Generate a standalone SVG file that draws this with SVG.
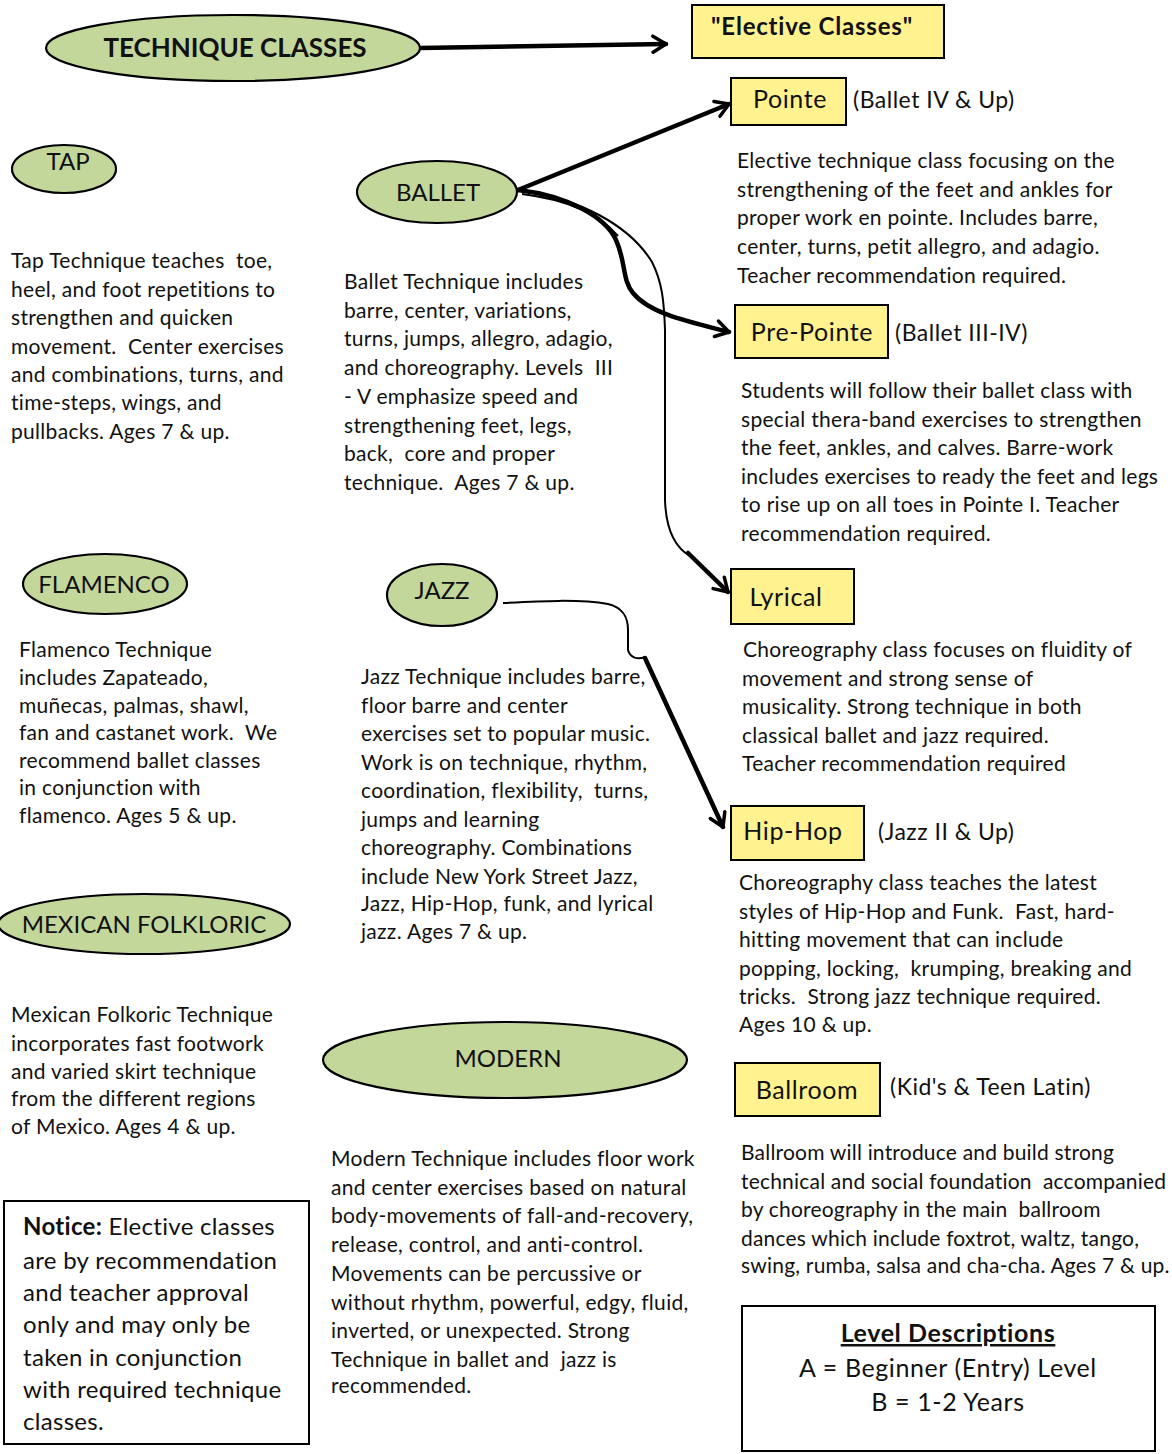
<svg xmlns="http://www.w3.org/2000/svg" width="1172" height="1454" viewBox="0 0 1172 1454">
<style>
.ell{fill:#C4D79B;stroke:#000;stroke-width:2.2}
.box{fill:#FFF28F;stroke:#000;stroke-width:2}
.frame{fill:#fff;stroke:#000;stroke-width:2}
.t{font-family:Lato,"Open Sans",sans-serif;font-size:21px;letter-spacing:0.3px;fill:#111}
.lbl{font-family:Lato,"Open Sans",sans-serif;font-size:24px;fill:#111}
.mx{font-size:25px;letter-spacing:0.6px}
.par{font-size:23px;letter-spacing:0.5px}
.note{font-family:Lato,"Open Sans",sans-serif;font-size:24px;letter-spacing:0.3px;fill:#111}
.c{text-anchor:middle}
.thick{fill:none;stroke:#000;stroke-width:4.5;stroke-linecap:round;stroke-linejoin:round}
.thin{fill:none;stroke:#000;stroke-width:2}
</style>
<defs>
<marker id="ah" viewBox="0 0 20 20" refX="17" refY="10" markerWidth="20" markerHeight="20" markerUnits="userSpaceOnUse" orient="auto">
<path d="M4,2 L17,10 L4,18" fill="none" stroke="#000" stroke-width="3.5" stroke-linecap="round" stroke-linejoin="round"/>
</marker>
</defs>
<rect width="1172" height="1454" fill="#fff"/>

<g id="connectors">
<path class="thick" d="M420,48 L666,44" marker-end="url(#ah)"/>
<path class="thick" d="M518,190 L729,104" marker-end="url(#ah)"/>
<path class="thick" d="M518,190 C570,196 606,218 616,240 C626,262 622,280 633,293 C650,314 690,322 729,332" marker-end="url(#ah)"/>
<path class="thin" d="M518,190 C580,198 630,226 652,262 C662,282 664,300 665,330 L665,500 C666,530 676,548 690,556"/>
<path class="thin" d="M522,194 C570,200 600,215 618,236"/>
<path class="thick" d="M688,553 L728,592" marker-end="url(#ah)"/>
<path class="thin" d="M503,603 C540,601 580,599 608,604 C624,608 628,618 628,630 L628,650 C630,658 638,660 645,657"/>
<path class="thick" d="M645,658 L723,827" marker-end="url(#ah)"/>
</g>

<g id="technique-classes">
<ellipse class="ell" cx="233" cy="48" rx="187" ry="33"/>
<text class="lbl c" x="235" y="57" font-weight="bold" style="font-size:26px">TECHNIQUE CLASSES</text>
</g>

<g id="elective-classes">
<rect class="box" x="692" y="5" width="252" height="53"/>
<text class="lbl c" x="812" y="35" font-weight="bold" style="letter-spacing:0.8px">"Elective Classes"</text>
</g>

<g id="tap">
<ellipse class="ell" cx="64" cy="169" rx="52" ry="24"/>
<text class="lbl c" x="68" y="170">TAP</text>
<text class="t" x="11" y="268" xml:space="preserve"><tspan x="11">Tap Technique teaches  toe,</tspan><tspan x="11" dy="28.6">heel, and foot repetitions to</tspan><tspan x="11" dy="28.6">strengthen and quicken</tspan><tspan x="11" dy="28.6">movement.  Center exercises</tspan><tspan x="11" dy="28.6">and combinations, turns, and</tspan><tspan x="11" dy="27.5">time-steps, wings, and</tspan><tspan x="11" dy="28.6">pullbacks. Ages 7 &amp; up.</tspan></text>
</g>

<g id="ballet">
<ellipse class="ell" cx="437" cy="192" rx="80" ry="31"/>
<text class="lbl c" x="438" y="201">BALLET</text>
<text class="t" x="344" y="289" xml:space="preserve"><tspan x="344">Ballet Technique includes</tspan><tspan x="344" dy="28.7">barre, center, variations,</tspan><tspan x="344" dy="28.7">turns, jumps, allegro, adagio,</tspan><tspan x="344" dy="28.7">and choreography. Levels  III</tspan><tspan x="344" dy="28.7">- V emphasize speed and</tspan><tspan x="344" dy="28.7">strengthening feet, legs,</tspan><tspan x="344" dy="28.7">back,  core and proper</tspan><tspan x="344" dy="28.7">technique.  Ages 7 &amp; up.</tspan></text>
</g>

<g id="pointe">
<rect class="box" x="731" y="78" width="115" height="47"/>
<text class="lbl mx c" x="790" y="108">Pointe</text>
<text class="lbl par" x="853" y="108">(Ballet IV &amp; Up)</text>
<text class="t" x="737" y="168" xml:space="preserve"><tspan x="737">Elective technique class focusing on the</tspan><tspan x="737" dy="28.7">strengthening of the feet and ankles for</tspan><tspan x="737" dy="28.7">proper work en pointe. Includes barre,</tspan><tspan x="737" dy="28.7">center, turns, petit allegro, and adagio.</tspan><tspan x="737" dy="28.7">Teacher recommendation required.</tspan></text>
</g>

<g id="pre-pointe">
<rect class="box" x="735" y="305" width="153" height="53"/>
<text class="lbl mx c" x="812" y="341">Pre-Pointe</text>
<text class="lbl par" x="895" y="341">(Ballet III-IV)</text>
<text class="t" x="741" y="398" xml:space="preserve"><tspan x="741">Students will follow their ballet class with</tspan><tspan x="741" dy="28.5">special thera-band exercises to strengthen</tspan><tspan x="741" dy="28.5">the feet, ankles, and calves. Barre-work</tspan><tspan x="741" dy="28.5">includes exercises to ready the feet and legs</tspan><tspan x="741" dy="28.5">to rise up on all toes in Pointe I. Teacher</tspan><tspan x="741" dy="28.5">recommendation required.</tspan></text>
</g>

<g id="flamenco">
<ellipse class="ell" cx="105" cy="584" rx="82" ry="30"/>
<text class="lbl c" x="104" y="593">FLAMENCO</text>
<text class="t" x="19" y="657" xml:space="preserve"><tspan x="19">Flamenco Technique</tspan><tspan x="19" dy="28">includes Zapateado,</tspan><tspan x="19" dy="28">muñecas, palmas, shawl,</tspan><tspan x="19" dy="27">fan and castanet work.  We</tspan><tspan x="19" dy="28">recommend ballet classes</tspan><tspan x="19" dy="27">in conjunction with</tspan><tspan x="19" dy="28">flamenco. Ages 5 &amp; up.</tspan></text>
</g>

<g id="jazz">
<ellipse class="ell" cx="442" cy="595" rx="55" ry="31"/>
<text class="lbl c" x="442" y="599">JAZZ</text>
<text class="t" x="361" y="684" xml:space="preserve"><tspan x="361">Jazz Technique includes barre,</tspan><tspan x="361" dy="28.5">floor barre and center</tspan><tspan x="361" dy="28.5">exercises set to popular music.</tspan><tspan x="361" dy="28.5">Work is on technique, rhythm,</tspan><tspan x="361" dy="28.5">coordination, flexibility,  turns,</tspan><tspan x="361" dy="28.5">jumps and learning</tspan><tspan x="361" dy="28.5">choreography. Combinations</tspan><tspan x="361" dy="28.5">include New York Street Jazz,</tspan><tspan x="361" dy="27">Jazz, Hip-Hop, funk, and lyrical</tspan><tspan x="361" dy="28">jazz. Ages 7 &amp; up.</tspan></text>
</g>

<g id="lyrical">
<rect class="box" x="731" y="569" width="123" height="55"/>
<text class="lbl mx c" x="786" y="606">Lyrical</text>
<text class="t" x="742" y="657" xml:space="preserve"><tspan x="743">Choreography class focuses on fluidity of</tspan><tspan x="742" dy="28.6">movement and strong sense of</tspan><tspan x="742" dy="28.6">musicality. Strong technique in both</tspan><tspan x="742" dy="28.6">classical ballet and jazz required.</tspan><tspan x="742" dy="28.6">Teacher recommendation required</tspan></text>
</g>

<g id="hip-hop">
<rect class="box" x="731" y="806" width="133" height="54"/>
<text class="lbl mx c" x="793" y="840">Hip-Hop</text>
<text class="lbl par" x="878" y="840">(Jazz II &amp; Up)</text>
<text class="t" x="739" y="890" xml:space="preserve"><tspan x="739">Choreography class teaches the latest</tspan><tspan x="739" dy="28.6">styles of Hip-Hop and Funk.  Fast, hard-</tspan><tspan x="739" dy="28.6">hitting movement that can include</tspan><tspan x="739" dy="28.6">popping, locking,  krumping, breaking and</tspan><tspan x="739" dy="28.6">tricks.  Strong jazz technique required.</tspan><tspan x="739" dy="27.5">Ages 10 &amp; up.</tspan></text>
</g>

<g id="mexican-folkloric">
<ellipse class="ell" cx="144" cy="924" rx="146" ry="30"/>
<text class="lbl c" x="144" y="933">MEXICAN FOLKLORIC</text>
<text class="t" x="11" y="1022" xml:space="preserve"><tspan x="11">Mexican Folkoric Technique</tspan><tspan x="11" dy="28.5">incorporates fast footwork</tspan><tspan x="11" dy="28.5">and varied skirt technique</tspan><tspan x="11" dy="27">from the different regions</tspan><tspan x="11" dy="28">of Mexico. Ages 4 &amp; up.</tspan></text>
</g>

<g id="modern">
<ellipse class="ell" cx="505" cy="1060" rx="182" ry="38"/>
<text class="lbl c" x="508" y="1067">MODERN</text>
<text class="t" x="331" y="1166" xml:space="preserve"><tspan x="331">Modern Technique includes floor work</tspan><tspan x="331" dy="28.7">and center exercises based on natural</tspan><tspan x="331" dy="28.7">body-movements of fall-and-recovery,</tspan><tspan x="331" dy="28.7">release, control, and anti-control.</tspan><tspan x="331" dy="28.7">Movements can be percussive or</tspan><tspan x="331" dy="28.7">without rhythm, powerful, edgy, fluid,</tspan><tspan x="331" dy="28.7">inverted, or unexpected. Strong</tspan><tspan x="331" dy="28.7">Technique in ballet and  jazz is</tspan><tspan x="331" dy="26.5">recommended.</tspan></text>
</g>

<g id="ballroom">
<rect class="box" x="735" y="1063" width="145" height="53"/>
<text class="lbl mx c" x="807" y="1099">Ballroom</text>
<text class="lbl par" x="890" y="1095">(Kid's &amp; Teen Latin)</text>
<text class="t" x="741" y="1160" xml:space="preserve" style="letter-spacing:0.2px"><tspan x="741">Ballroom will introduce and build strong</tspan><tspan x="741" dy="28.5">technical and social foundation  accompanied</tspan><tspan x="741" dy="28.5">by choreography in the main  ballroom</tspan><tspan x="741" dy="28.5">dances which include foxtrot, waltz, tango,</tspan><tspan x="741" dy="27.5">swing, rumba, salsa and cha-cha. Ages 7 &amp; up.</tspan></text>
</g>

<g id="notice">
<rect class="frame" x="4" y="1201" width="305" height="243"/>
<text class="note" x="23" y="1235" xml:space="preserve"><tspan x="23"><tspan font-weight="bold">Notice:</tspan> Elective classes</tspan><tspan x="23" dy="33.5">are by recommendation</tspan><tspan x="23" dy="32">and teacher approval</tspan><tspan x="23" dy="32.5">only and may only be</tspan><tspan x="23" dy="33">taken in conjunction</tspan><tspan x="23" dy="31.5">with required technique</tspan><tspan x="23" dy="32">classes.</tspan></text>
</g>

<g id="level-descriptions">
<rect class="frame" x="742" y="1306" width="413" height="145"/>
<text class="lbl mx c" x="948" y="1342" font-weight="bold" text-decoration="underline">Level Descriptions</text>
<text class="lbl mx c" x="948" y="1377">A = Beginner (Entry) Level</text>
<text class="lbl mx c" x="948" y="1411">B = 1-2 Years</text>
</g>
</svg>
